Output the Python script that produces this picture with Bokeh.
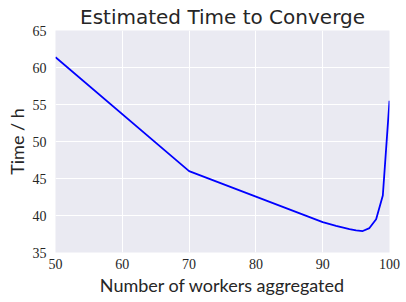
from bokeh.plotting import figure
from bokeh.models import Range1d, FixedTicker
from bokeh.embed import file_html
from bokeh.resources import INLINE

workers = [50, 70, 90, 92, 94, 95, 96, 97, 98, 99, 100]
hours = [61.4, 46.0, 39.1, 38.6, 38.15, 38.0, 37.9, 38.3, 39.5, 42.7, 55.5]
x_ticks = [50, 60, 70, 80, 90, 100]
y_ticks = [35, 40, 45, 50, 55, 60, 65]

p = figure(width=406, height=302, output_backend="svg", toolbar_location=None,
           x_range=Range1d(50, 100), y_range=Range1d(35, 65),
           min_border_left=55, min_border_right=17, min_border_top=29, min_border_bottom=50,
           background_fill_color="#EAEAF2", border_fill_color="white",
           title="Estimated Time to Converge")
p.outline_line_color = None
p.title.align = "center"
p.title.text_font = "DejaVu Sans"
p.title.text_font_style = "normal"
p.title.text_font_size = "20px"
p.title.text_color = "#262626"
p.title.standoff = 4

p.line(workers, hours, line_color="blue", line_width=1.8)

p.xaxis.ticker = FixedTicker(ticks=x_ticks)
p.yaxis.ticker = FixedTicker(ticks=y_ticks)
p.xaxis.axis_label = "Number of workers aggregated"
p.yaxis.axis_label = "Time / h"
for ax in (p.xaxis[0], p.yaxis[0]):
    ax.axis_line_color = None
    ax.major_tick_line_color = None
    ax.minor_tick_line_color = None
    ax.major_tick_out = 0
    ax.major_tick_in = 0
    ax.minor_tick_out = 0
    ax.minor_tick_in = 0
    ax.major_label_text_font = "Liberation Serif"
    ax.major_label_text_font_size = "14px"
    ax.major_label_text_color = "#262626"
    ax.axis_label_text_font = "Lato"
    ax.axis_label_text_font_style = "normal"
    ax.axis_label_text_font_size = "18px"
    ax.axis_label_text_color = "#262626"

p.xaxis.major_label_standoff = 6
p.xaxis.axis_label_standoff = 2
p.yaxis.major_label_standoff = 9
p.yaxis.axis_label_standoff = 2

p.xgrid.grid_line_color = "white"
p.ygrid.grid_line_color = "white"

open("out.html", "w").write(file_html(p, INLINE))
